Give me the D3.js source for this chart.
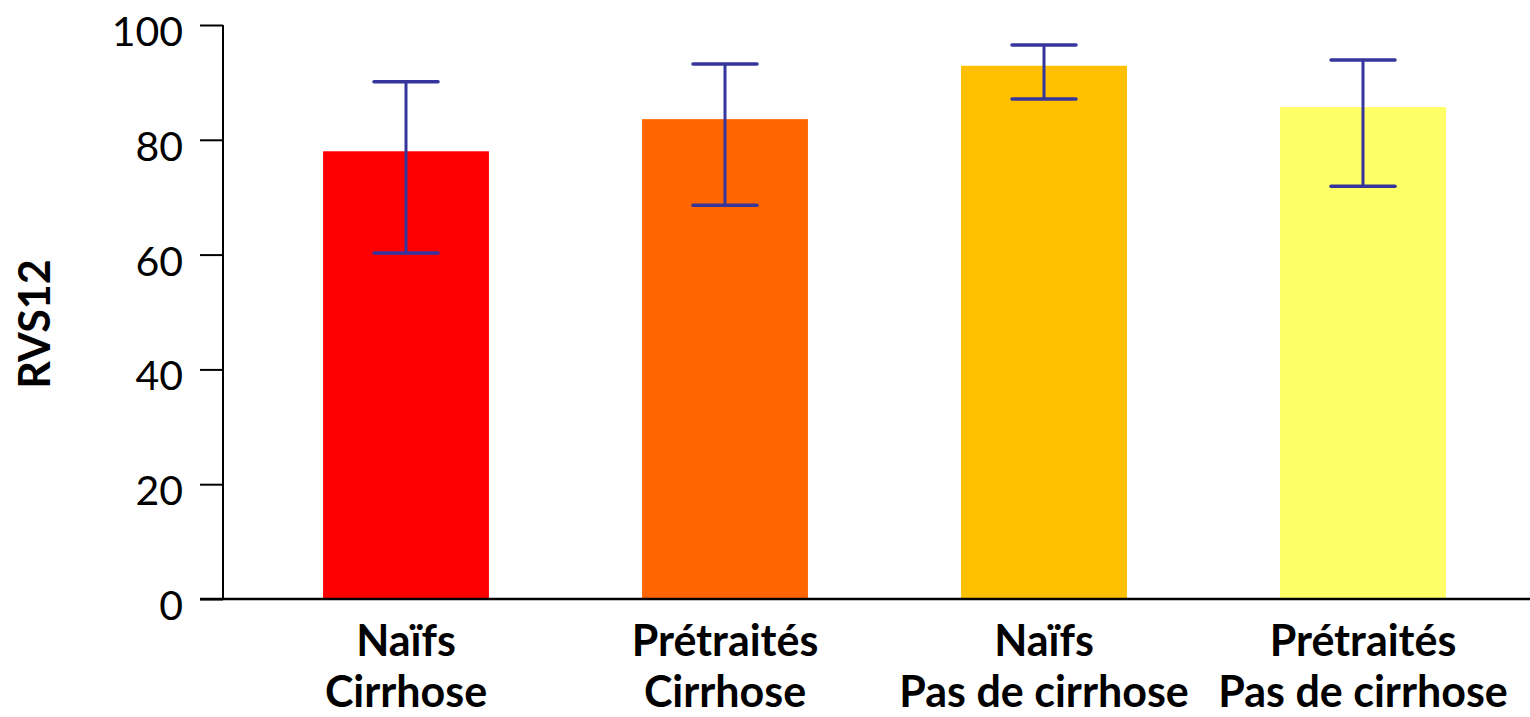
<!DOCTYPE html>
<html>
<head>
<meta charset="utf-8">
<script src="https://cdn.jsdelivr.net/npm/d3@7"></script>
<style>
  html, body { margin: 0; padding: 0; background: #fff; }
  svg { display: block; }
  text { font-family: Lato, "Open Sans", sans-serif; fill: #000; }
</style>
</head>
<body>
<svg id="chart" width="1530" height="717"></svg>
<script>
// Categories (two-line labels), bar values and error-bar bounds
const groups = ["Naïfs|Cirrhose", "Prétraités|Cirrhose", "Naïfs|Pas de cirrhose", "Prétraités|Pas de cirrhose"];
const values = [78.0, 83.6, 92.9, 85.7];
const lowerBounds = [60.3, 68.6, 87.1, 71.9];
const upperBounds = [90.1, 93.2, 96.5, 93.9];
const barColors = ["#FF0000", "#FF6600", "#FFC000", "#FFFF66"];
const yTicks = [0, 20, 40, 60, 80, 100];
const yTitle = "RVS12";

const rows = groups.map((g, i) => ({
  key: g, lines: g.split("|"), value: values[i],
  lo: lowerBounds[i], hi: upperBounds[i], color: barColors[i]
}));

const svg = d3.select("#chart");
const plotTop = 25, plotBottom = 599, axisX = 223;

const y = d3.scaleLinear().domain([0, 100]).range([plotBottom, plotTop]);
const x = d3.scaleBand()
  .domain(groups)
  .range([246.5, 1522.5])
  .paddingInner(0.48)
  .paddingOuter(0.24);

// Bars
svg.append("g").selectAll("rect").data(rows).join("rect")
  .attr("x", d => x(d.key))
  .attr("width", x.bandwidth())
  .attr("y", d => y(d.value))
  .attr("height", d => y(0) - y(d.value))
  .attr("fill", d => d.color);

// Error bars
const capHalf = 32;
const err = svg.append("g").attr("stroke", "#35359C").attr("stroke-width", 3.5).attr("fill", "none");
rows.forEach(d => {
  const cx = x(d.key) + x.bandwidth() / 2;
  const g = err.append("g");
  g.append("line").attr("x1", cx).attr("x2", cx).attr("y1", y(d.hi)).attr("y2", y(d.lo)).attr("stroke-width", 3);
  g.append("line").attr("x1", cx - capHalf).attr("x2", cx + capHalf).attr("y1", y(d.hi)).attr("y2", y(d.hi)).attr("stroke-linecap", "round");
  g.append("line").attr("x1", cx - capHalf).attr("x2", cx + capHalf).attr("y1", y(d.lo)).attr("y2", y(d.lo)).attr("stroke-linecap", "round");
});

// Y axis
const yAxis = d3.axisLeft(y).tickValues(yTicks).tickSize(23).tickSizeOuter(0).tickPadding(17);
const gy = svg.append("g").attr("transform", `translate(${axisX},0)`).call(yAxis);
gy.select(".domain").remove();
gy.selectAll(".tick line").attr("stroke", "#000").attr("stroke-width", 2);
gy.selectAll(".tick text")
  .attr("font-family", "Lato, sans-serif")
  .attr("font-size", 41)
  .attr("fill", "#000")
  .attr("dy", "0.5em");
svg.append("line")
  .attr("x1", axisX).attr("x2", axisX)
  .attr("y1", y(100)).attr("y2", y(0))
  .attr("stroke", "#000").attr("stroke-width", 2);

// X axis baseline
svg.append("line")
  .attr("x1", axisX - 23).attr("x2", 1530)
  .attr("y1", y(0)).attr("y2", y(0))
  .attr("stroke", "#000").attr("stroke-width", 2.5);

// Category labels
const labels = svg.append("g").selectAll("text").data(rows).join("text")
  .attr("text-anchor", "middle")
  .attr("font-size", 43)
  .attr("font-weight", "bold")
  .attr("transform", d => `translate(${x(d.key) + x.bandwidth() / 2},0)`);
labels.selectAll("tspan").data(d => d.lines).join("tspan")
  .attr("x", 0)
  .attr("y", (t, i) => 656 + i * 51)
  .text(t => t);

// Y axis title
svg.append("text")
  .attr("transform", "translate(50,324) rotate(-90)")
  .attr("text-anchor", "middle")
  .attr("font-size", 43)
  .attr("font-weight", "bold")
  .text(yTitle);
</script>
</body>
</html>
